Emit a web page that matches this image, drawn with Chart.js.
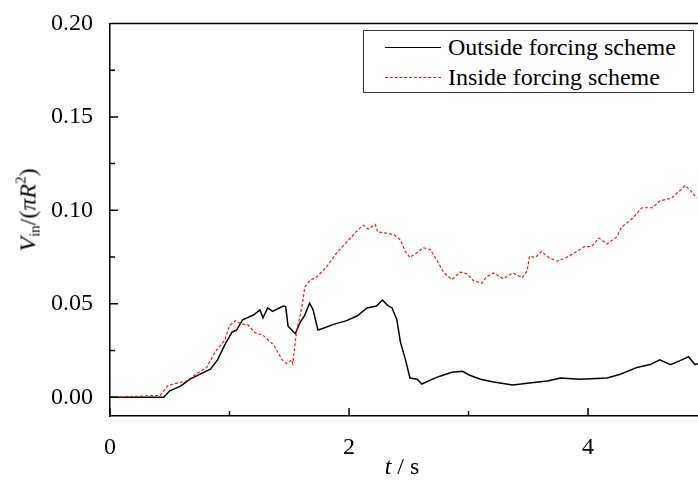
<!DOCTYPE html>
<html>
<head>
<meta charset="utf-8">
<script src="https://cdn.jsdelivr.net/npm/chart.js@4"></script>
<style>
  html, body { margin: 0; padding: 0; background: #fff; }
  #wrap { position: relative; width: 698px; height: 484px; overflow: hidden; font-family: 'Liberation Serif', 'Times New Roman', serif; color: #000; }
  #c { position: absolute; left: 0; top: 0; }
  .ytitle { position: absolute; left: 28px; top: 210px; transform: translate(-50%, -50%) rotate(-90deg); font-size: 24px; white-space: nowrap; }
  .ytitle sub { font-size: 15px; vertical-align: -4px; }
  .ytitle sup { font-size: 15px; vertical-align: 10px; }
  .xtitle { position: absolute; left: 402px; top: 466px; transform: translate(-50%, -50%); font-size: 24px; white-space: nowrap; }
  .legend { position: absolute; left: 363px; top: 30px; width: 329px; height: 61px; border: 1px solid #333; background: #fff; font-size: 24px; }
  .legend .row { position: absolute; left: 0; height: 28px; line-height: 28px; white-space: nowrap; }
  .legend .sw { position: absolute; left: 21px; width: 56px; top: 14px; }
  .legend .lbl { position: absolute; left: 84px; top: 0; }
</style>
</head>
<body>
<div id="wrap">
  <canvas id="c" width="698" height="484"></canvas>
  <div class="ytitle"><i>V</i><sub>in</sub>/(<i>&pi;R</i><sup>2</sup>)</div>
  <div class="xtitle"><i>t</i> / s</div>
  <div class="legend">
    <div class="row" style="top:2px"><div class="sw" style="border-top:1px solid #000"></div><span class="lbl">Outside forcing scheme</span></div>
    <div class="row" style="top:32px"><div class="sw" style="border-top:1px dashed #ff1010"></div><span class="lbl">Inside forcing scheme</span></div>
  </div>
</div>
<script>
  // data
  const outsideT = [0, 0.45, 0.50, 0.59, 0.67, 0.75, 0.84, 0.90, 0.96, 1.02, 1.06, 1.11, 1.20, 1.255, 1.28, 1.32, 1.36, 1.45, 1.47, 1.49, 1.55, 1.59, 1.63, 1.67, 1.70, 1.74, 1.78, 1.87, 1.98, 2.07, 2.15, 2.23, 2.28, 2.32, 2.36, 2.40, 2.43, 2.47, 2.51, 2.57, 2.61, 2.68, 2.76, 2.86, 2.95, 3.01, 3.10, 3.21, 3.37, 3.51, 3.66, 3.77, 3.93, 4.16, 4.27, 4.41, 4.52, 4.60, 4.69, 4.77, 4.84, 4.895, 4.92];
  const outsideV = [0, 0, 0.0035, 0.006, 0.0097, 0.0123, 0.015, 0.020, 0.028, 0.0347, 0.036, 0.0415, 0.044, 0.0467, 0.0425, 0.0478, 0.046, 0.0488, 0.0485, 0.038, 0.034, 0.040, 0.044, 0.0504, 0.0467, 0.036, 0.0368, 0.039, 0.041, 0.0436, 0.0478, 0.0488, 0.052, 0.0493, 0.0478, 0.0415, 0.0295, 0.0207, 0.0103, 0.0097, 0.0071, 0.0092, 0.0113, 0.0134, 0.0139, 0.0118, 0.0097, 0.0082, 0.0066, 0.0077, 0.0087, 0.0103, 0.0097, 0.0103, 0.0123, 0.016, 0.0175, 0.020, 0.0175, 0.0196, 0.0217, 0.0175, 0.018];

  const insideT = [0, 0.42, 0.48, 0.56, 0.64, 0.73, 0.81, 0.88, 0.96, 1.00, 1.05, 1.10, 1.15, 1.21, 1.28, 1.37, 1.44, 1.48, 1.52, 1.53, 1.56, 1.59, 1.61, 1.63, 1.67, 1.73, 1.81, 1.90, 1.98, 2.07, 2.12, 2.16, 2.22, 2.24, 2.32, 2.38, 2.43, 2.47, 2.51, 2.57, 2.62, 2.68, 2.74, 2.79, 2.86, 2.93, 2.99, 3.04, 3.11, 3.15, 3.21, 3.29, 3.37, 3.45, 3.49, 3.51, 3.56, 3.61, 3.67, 3.74, 3.82, 3.89, 3.97, 4.03, 4.09, 4.16, 4.24, 4.28, 4.37, 4.45, 4.54, 4.60, 4.70, 4.79, 4.81, 4.85, 4.91];
  const insideV = [0, 0.001, 0.006, 0.0076, 0.0087, 0.0129, 0.016, 0.0243, 0.0306, 0.0384, 0.041, 0.039, 0.039, 0.0347, 0.0332, 0.028, 0.020, 0.018, 0.020, 0.018, 0.0347, 0.0436, 0.050, 0.059, 0.0624, 0.0644, 0.0696, 0.0775, 0.083, 0.0894, 0.092, 0.090, 0.0925, 0.0884, 0.0878, 0.0868, 0.0842, 0.078, 0.0748, 0.0774, 0.080, 0.079, 0.0728, 0.067, 0.063, 0.067, 0.066, 0.0624, 0.061, 0.0644, 0.0665, 0.0634, 0.0665, 0.064, 0.0676, 0.0754, 0.0748, 0.078, 0.0748, 0.0728, 0.0748, 0.0774, 0.0806, 0.0806, 0.0852, 0.082, 0.0858, 0.091, 0.0956, 0.1014, 0.1014, 0.105, 0.1066, 0.1118, 0.1133, 0.1112, 0.1066];

  const xTicks = [0, 2, 4];
  const xMinor = [1, 3];
  const yTicks = [0, 0.05, 0.10, 0.15, 0.20];
  const yMinor = [0.025, 0.075, 0.125, 0.175];

  const FONT = "'Liberation Serif', 'Times New Roman', serif";

  function pts(t, v) { return t.map((x, i) => ({ x: x, y: v[i] })); }

  // frame: top border + inward tick marks
  const framePlugin = {
    id: 'frame',
    afterDatasetsDraw(chart) {
      const c = chart.ctx, a = chart.chartArea;
      const xs = chart.scales.x, ys = chart.scales.y;
      c.save();
      c.strokeStyle = '#000';
      c.lineWidth = 1.5;
      c.beginPath();
      c.moveTo(a.left, a.top); c.lineTo(a.right, a.top);
      xTicks.forEach(v => { const p = xs.getPixelForValue(v); c.moveTo(p, a.bottom); c.lineTo(p, a.bottom - 8); });
      xMinor.forEach(v => { const p = xs.getPixelForValue(v); c.moveTo(p, a.bottom); c.lineTo(p, a.bottom - 5); });
      yTicks.forEach(v => { const p = ys.getPixelForValue(v); c.moveTo(a.left, p); c.lineTo(a.left + 8, p); });
      yMinor.forEach(v => { const p = ys.getPixelForValue(v); c.moveTo(a.left, p); c.lineTo(a.left + 5, p); });
      c.stroke();
      c.restore();
    }
  };

  new Chart(document.getElementById('c'), {
    type: 'line',
    data: {
      datasets: [{
        label: 'Outside forcing scheme',
        data: pts(outsideT, outsideV),
        borderColor: '#000',
        borderWidth: 1.5,
        pointRadius: 0,
        tension: 0,
        order: 1
      }, {
        label: 'Inside forcing scheme',
        data: pts(insideT, insideV),
        borderColor: '#ff1010',
        borderWidth: 1.2,
        borderDash: [3, 2],
        pointRadius: 0,
        tension: 0,
        order: 0
      }]
    },
    options: {
      responsive: false,
      animation: false,
      devicePixelRatio: 1,
      layout: { padding: { top: 13, right: 0, left: 0, bottom: 0 } },
      plugins: { legend: { display: false }, tooltip: { enabled: false } },
      scales: {
        x: {
          type: 'linear',
          min: 0,
          max: 4.92,
          afterBuildTicks: s => { s.ticks = xTicks.map(v => ({ value: v })); },
          afterFit: s => { s.height = 68; },
          grid: { display: false },
          border: { display: true, color: '#000', width: 1.5 },
          ticks: { color: '#000', padding: 9, font: { family: FONT, size: 24 }, maxRotation: 0, callback: v => String(v) }
        },
        y: {
          min: -0.01,
          max: 0.20,
          afterBuildTicks: s => { s.ticks = yTicks.map(v => ({ value: v })); },
          afterFit: s => { s.width = 110; },
          grid: { display: false },
          border: { display: true, color: '#000', width: 1.5 },
          ticks: { color: '#000', padding: 9, font: { family: FONT, size: 24 }, callback: v => Number(v).toFixed(2) }
        }
      }
    },
    plugins: [framePlugin]
  });
</script>
</body>
</html>
